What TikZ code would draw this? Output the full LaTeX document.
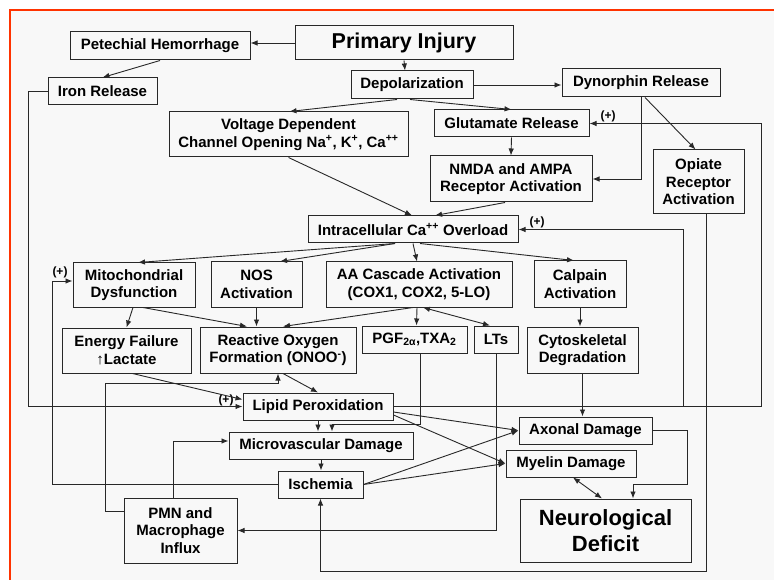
\documentclass[tikz,border=0pt]{standalone}
\usepackage{fontspec}
\setmainfont{Liberation Sans}
\usetikzlibrary{arrows.meta}
\definecolor{frame}{RGB}{255,51,0}
\definecolor{paper}{RGB}{248,248,248}
\definecolor{ink}{RGB}{40,40,40}

\begin{document}
\begin{tikzpicture}[x=1pt, y=-1pt, >={Latex[length=7pt,width=5.5pt]},
    box/.style={draw=ink, line width=1pt, align=center, inner sep=0pt, text=black,
        font=\bfseries\fontsize{15}{17.5}\selectfont},
    big/.style={box, font=\bfseries\fontsize{21.5}{26}\selectfont},
    sz/.style 2 args={minimum width=#1pt, minimum height=#2pt},
    link/.style={draw=ink, line width=0.9pt},
    plus/.style={font=\bfseries\fontsize{12}{12}\selectfont, inner sep=0pt}]

    \useasboundingbox (0,0) rectangle (774,580);
    % paper and the red frame
    \fill[white] (0,0) rectangle (774,580);
    \fill[paper] (9.5,10) rectangle (774,580);
    \draw[frame, line width=2pt] (9.5,580) -- (9.5,10) -- (774,10);

    % lanes used by the long feedback lines
    \coordinate (laneL) at (28,0);
    \coordinate (laneM) at (52,0);
    \coordinate (laneP) at (105,383);
    \coordinate (laneA) at (683,0);
    \coordinate (laneB) at (761,0);
    \coordinate (laneC) at (0,571);
    \coordinate (laneD) at (687,484);

    % top row
    \node[big, sz={218}{34}] (prim) at (404,43) {Primary Injury};
    \node[box, sz={180}{28}] (peth) at (160,46) {Petechial Hemorrhage};
    \node[box, sz={109}{27}] (iron) at (102.5,91.5) {Iron Release};
    \node[box, sz={122}{28}] (depol) at (412,85) {Depolarization};
    \node[box, sz={158}{28}] (dyn) at (641,83) {Dynorphin Release};

    % channels and receptors
    \node[box, sz={239}{45}] (volt) at (288.5,134.5)
        {Voltage Dependent\\Channel Opening Na\textsuperscript{+}, K\textsuperscript{+}, Ca\textsuperscript{++}};
    \node[box, sz={155}{27}] (glut) at (511.5,123.5) {Glutamate Release};
    \node[box, sz={162}{46}] (nmda) at (511,179) {NMDA and AMPA\\Receptor Activation};
    \node[box, sz={91}{64}] (opiate) at (698.5,182) {Opiate\\Receptor\\Activation};
    \node[box, sz={210}{27}] (caov) at (413,229.5) {Intracellular Ca\textsuperscript{++} Overload};

    % second level
    \node[box, sz={122}{44}] (mito) at (134,285) {Mitochondrial\\Dysfunction};
    \node[box, sz={91}{45}] (nos) at (256.5,284.5) {NOS\\Activation};
    \node[box, sz={186}{45}] (aa) at (419,284.5) {AA Cascade Activation\\(COX1, COX2, 5-LO)};
    \node[box, sz={92}{46}] (calp) at (580,284) {Calpain\\Activation};

    % third level
    \node[box, sz={129}{45}] (energy) at (126.5,350.5) {Energy Failure\\↑Lactate};
    \node[box, sz={156}{46}] (ros) at (278,350) {Reactive Oxygen\\Formation (ONOO\textsuperscript{-})};
    \node[box, sz={105}{27}] (pgf) at (414.5,339.5) {PGF\textsubscript{2α},TXA\textsubscript{2}};
    \node[box, sz={44}{27}] (lts) at (496,339.5) {LTs};
    \node[box, sz={111}{46}] (cyto) at (582.5,350) {Cytoskeletal\\Degradation};

    % damage
    \node[box, sz={150}{27}] (lipid) at (318,406.5) {Lipid Peroxidation};
    \node[box, sz={184}{27}] (micro) at (321,445.5) {Microvascular Damage};
    \node[box, sz={85}{27}] (isch) at (320.5,484.5) {Ischemia};
    \node[box, sz={133}{27}] (axon) at (585.5,430.5) {Axonal Damage};
    \node[box, sz={130}{27}] (myel) at (571,463.5) {Myelin Damage};
    \node[box, sz={113}{65}] (pmn) at (180.5,530.5) {PMN and\\Macrophage\\Influx};
    \node[big, sz={171}{63}, font=\bfseries\fontsize{22}{26}\selectfont] (neuro) at (605.5,530.5)
        {Neurological\\Deficit};

    % the (+) marks
    \node[plus] (plusG) at (608,116) {(+)};
    \node[plus] (plusC) at (537,222) {(+)};
    \node[plus] (plusM) at (60,272) {(+)};
    \node[plus] (plusL) at (226,400) {(+)};

    % primary injury and its first effects
    \draw[link, ->] (prim.west) -- (prim.west -| peth.east);
    \draw[link, ->] (peth.south) -- (iron.north);
    \draw[link, ->] (prim.south) -- ([xshift=-7pt]depol.north);
    \draw[link, ->] (depol.east) -- (depol.east -| dyn.west);
    \draw[link, ->] ([xshift=-15pt]depol.south) -- ([xshift=1pt]volt.north);
    \draw[link, ->] ([xshift=-2pt]depol.south) -- (glut.north);
    \draw[link, ->] (dyn.south) |- (nmda.east);
    \draw[link, ->] ([xshift=4pt]dyn.south) -- ([xshift=-3pt]opiate.north);
    \draw[link, ->] (glut.south) -- (nmda.north);

    % into the calcium overload
    \draw[link, ->] ([xshift=-6pt]nmda.south) -- ([xshift=22pt]caov.north);
    \draw[link, ->] (volt.south) -- ([xshift=-1pt]caov.north);

    % out of the calcium overload
    \draw[link, ->] ([xshift=-18pt]caov.south) -- ([xshift=4pt]mito.north);
    \draw[link, ->] ([xshift=-18pt]caov.south) -- ([xshift=23.5pt]nos.north);
    \draw[link, ->] (caov.south) -- ([xshift=-2pt]aa.north);
    \draw[link, ->] ([xshift=7pt]caov.south) -- ([xshift=-6pt]calp.north);

    % second to third level
    \draw[link, ->] ([xshift=-1pt]mito.south) -- (energy.north);
    \draw[link, ->] ([xshift=9pt]mito.south) -- ([xshift=-31pt]ros.north);
    \draw[link, ->] (nos.south) -- (nos.south |- ros.north);
    \draw[link, ->] ([xshift=-6pt]aa.south) -- ([xshift=5pt]ros.north);
    \draw[link, ->] ([xshift=-2pt]aa.south) -- ([xshift=2pt]pgf.north);
    \draw[link, <->] ([xshift=4pt]aa.south) -- ([xshift=-6pt]lts.north);
    \draw[link, ->] (calp.south) -- (calp.south |- cyto.north);
    \draw[link, ->] (cyto.south) -- (cyto.south |- axon.north);

    % into lipid peroxidation
    \draw[link, ->] ([xshift=6pt]energy.south) -- ([yshift=7pt]lipid.west);
    \draw[link, ->] (iron.west) -- (iron.west -| laneL) |- (lipid.west);
    \draw[link, ->] ([xshift=5pt]ros.south) -- (lipid.north);

    % feedback lines
    \draw[link, ->] (isch.west) -- (isch.west -| laneM) |- ([yshift=4pt]mito.west);
    \draw[link, ->] ([yshift=19.5pt]pmn.west) -| (laneP) -| (ros.south);
    \draw[link, ->] (lipid.east) -- (lipid.east -| laneB) |- (glut.east);
    \draw[link, ->] (lipid.east -| laneA) |- (caov.east);
    \draw[link, ->] ([xshift=7.5pt]opiate.south) -- ([xshift=7.5pt]opiate.south |- laneC) -| (isch.south);

    % microvascular damage and ischemia
    \draw[link, ->] ([xshift=-7.5pt]pmn.north) |- ([yshift=4.5pt]micro.west);
    \draw[link, ->] (lipid.south) -- (lipid.south |- micro.north);
    \draw[link, ->] ([xshift=5.5pt]pgf.south) |- ([xshift=11pt, yshift=7pt]micro.north)
        -- ([xshift=11pt]micro.north);
    \draw[link, ->] (lts.south) |- (pmn.east);
    \draw[link, ->] (micro.south) -- (micro.south |- isch.north);

    % axonal and myelin damage
    \draw[link, ->] ([yshift=-5.5pt]lipid.east) -- (axon.west);
    \draw[link, ->] ([yshift=-8.5pt]lipid.east) -- (myel.west);
    \draw[link, ->] (isch.east) -- (axon.west);
    \draw[link, ->] (isch.east) -- (myel.west);
    \draw[link, ->] (axon.east) -| (laneD) -| ([xshift=27.5pt]neuro.north);
    \draw[link, <->] ([xshift=2pt]myel.south) -- ([xshift=-3.5pt]neuro.north);
\end{tikzpicture}
\end{document}
